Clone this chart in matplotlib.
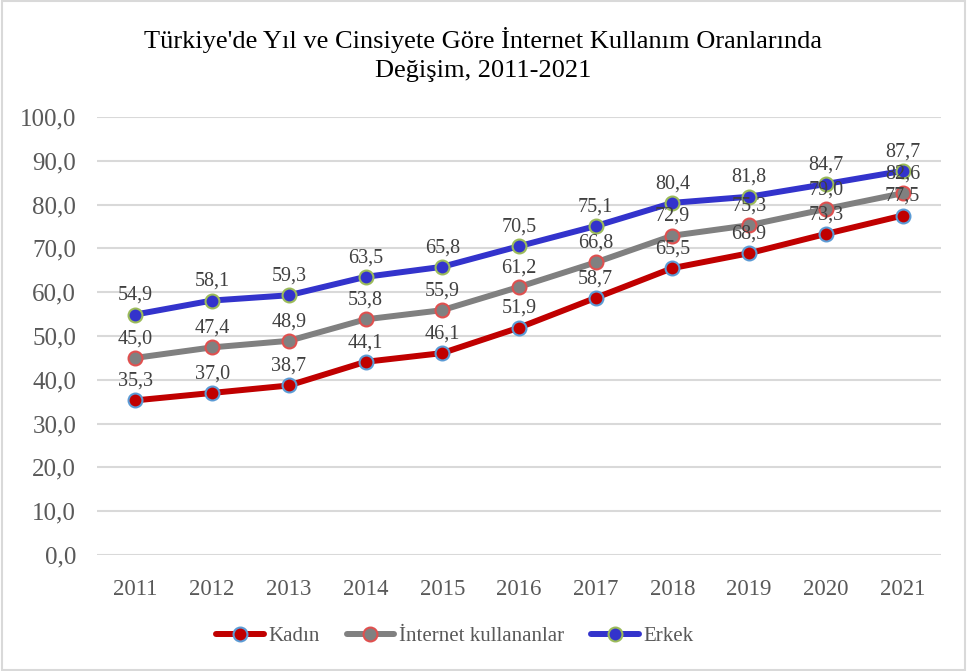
import numpy as np
import matplotlib
matplotlib.use("Agg")
import matplotlib.pyplot as plt
from matplotlib.patches import Rectangle

plt.rcParams['font.family'] = ['Liberation Serif', 'DejaVu Serif']

years = ["2011", "2012", "2013", "2014", "2015", "2016", "2017", "2018", "2019", "2020", "2021"]
kadin = [35.3, 37.0, 38.7, 44.1, 46.1, 51.9, 58.7, 65.5, 68.9, 73.3, 77.5]
internet = [45.0, 47.4, 48.9, 53.8, 55.9, 61.2, 66.8, 72.9, 75.3, 79.0, 82.6]
erkek = [54.9, 58.1, 59.3, 63.5, 65.8, 70.5, 75.1, 80.4, 81.8, 84.7, 87.7]

series = [
    ("Kadın", kadin, "#C00000", "#5B9BD5"),
    ("İnternet kullananlar", internet, "#808080", "#E0504F"),
    ("Erkek", erkek, "#3333CC", "#9BBB59"),
]

txt = "#595959"

fig = plt.figure(figsize=(9.67, 6.71), dpi=100)
ax = fig.add_axes([0.1003, 0.1729, 0.8727, 0.6527])

x = np.arange(len(years))
for name, vals, col, edge in series:
    ax.plot(x, vals, color=col, lw=4.3, marker="o", ms=10,
            mfc=col, mec=edge, mew=1.5, label=name, solid_capstyle="round", zorder=3)
    for xi, v in zip(x, vals):
        ax.annotate(f"{v:.1f}".replace(".", ","), (xi, v), xytext=(0, 7),
                    textcoords="offset points", ha="center", va="bottom",
                    fontsize=14.5, color="#404040", zorder=4)

ax.set_xlim(-0.5, len(years) - 0.5)
ax.set_ylim(0, 100)
ax.set_yticks(np.arange(0, 101, 10))
ax.set_yticklabels([f"{v:.1f}".replace(".", ",") for v in np.arange(0, 101, 10)])
ax.set_xticks(x)
ax.set_xticklabels(years)
ax.tick_params(length=0, colors=txt)
ax.tick_params(axis="y", pad=15, labelsize=18)
ax.tick_params(axis="x", pad=17, labelsize=16.5)
ax.grid(axis="y", color="#D9D9D9", lw=1.5)
ax.set_axisbelow(True)
for s in ax.spines.values():
    s.set_visible(False)

fig.text(0.5, 0.919, "Türkiye'de Yıl ve Cinsiyete Göre İnternet Kullanım Oranlarında\nDeğişim, 2011-2021",
         ha="center", va="center", fontsize=19, linespacing=1.45, color="black")

leg = fig.legend(loc="center", bbox_to_anchor=(0.47, 0.052), ncol=3, frameon=False,
                 fontsize=15, handlelength=2.3, columnspacing=1.3, handletextpad=0.2)
for t in leg.get_texts():
    t.set_color(txt)

fig.patches.append(Rectangle((0.002, 0.002), 0.996, 0.996, transform=fig.transFigure,
                             fill=False, ec="#D9D9D9", lw=1.5))

fig.savefig("out.png", dpi=100)
